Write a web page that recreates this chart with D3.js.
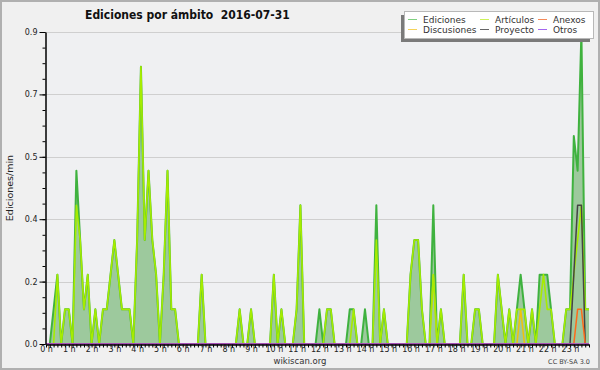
<!DOCTYPE html>
<meta charset="utf-8">
<style>
body { margin: 0; background: #f0f0f0; }
text { font-family: "DejaVu Sans", sans-serif; }
.axis path, .axis line { stroke: #000; }
.axis text { font-size: 8px; fill: #222; }
.grid { stroke: #cfcfcf; stroke-width: 1px; }
.legend text { font-size: 9px; fill: #333; }
</style>
<body>
<script src="https://d3js.org/d3.v7.min.js"></script>
<script>
// one value every 10 minutes, six per row (one row = one hour)
const ediciones = [
  0, 0, 0.1, 0.2, 0, 0.1,
  0.1, 0, 0.5, 0.3, 0.1, 0.2,
  0, 0.1, 0, 0.1, 0.1, 0.2,
  0.3, 0.2, 0.1, 0.1, 0.1, 0,
  0.3, 0.8, 0.3, 0.5, 0.3, 0.2,
  0, 0.2, 0.5, 0.1, 0.1, 0,
  0, 0, 0, 0, 0, 0.2,
  0, 0, 0, 0, 0, 0,
  0, 0, 0, 0.1, 0, 0,
  0.1, 0, 0, 0, 0, 0,
  0.2, 0, 0.1, 0, 0, 0,
  0.1, 0.4, 0, 0, 0, 0,
  0.1, 0, 0.1, 0.1, 0, 0,
  0, 0, 0.1, 0.1, 0, 0,
  0.1, 0, 0, 0.4, 0, 0.1,
  0, 0, 0, 0, 0, 0,
  0.2, 0.3, 0.3, 0.1, 0, 0,
  0.4, 0, 0.1, 0, 0, 0,
  0, 0, 0.2, 0, 0, 0.1,
  0.1, 0, 0, 0, 0, 0.2,
  0.1, 0, 0.1, 0, 0.1, 0.2,
  0.1, 0, 0.1, 0, 0.2, 0.2,
  0.2, 0.1, 0, 0, 0, 0.1,
  0.1, 0.6, 0.5, 0.9, 0.1, 0.1
];
const articulos = [
  0, 0, 0, 0.2, 0, 0.1,
  0.1, 0, 0.4, 0.3, 0.1, 0.2,
  0, 0.1, 0, 0.1, 0.1, 0.2,
  0.3, 0.2, 0.1, 0.1, 0.1, 0,
  0.3, 0.8, 0.3, 0.5, 0.3, 0.2,
  0, 0.2, 0.5, 0.1, 0.1, 0,
  0, 0, 0, 0, 0, 0.2,
  0, 0, 0, 0, 0, 0,
  0, 0, 0, 0.1, 0, 0,
  0.1, 0, 0, 0, 0, 0,
  0.2, 0, 0.1, 0, 0, 0,
  0.1, 0.4, 0, 0, 0, 0,
  0, 0, 0.1, 0.1, 0, 0,
  0, 0, 0, 0.1, 0, 0,
  0, 0, 0, 0.3, 0, 0.1,
  0, 0, 0, 0, 0, 0,
  0.2, 0.3, 0.3, 0.1, 0, 0,
  0.2, 0, 0.1, 0, 0, 0,
  0, 0, 0.2, 0, 0, 0.1,
  0.1, 0, 0, 0, 0, 0.2,
  0.1, 0, 0.1, 0, 0.1, 0.1,
  0.1, 0, 0.1, 0, 0.1, 0.2,
  0.1, 0.1, 0, 0, 0, 0.1,
  0.1, 0.2, 0.3, 0.4, 0.1, 0.1
];
const discusiones = [
  0, 0, 0, 0, 0, 0,  0, 0, 0, 0, 0, 0,  0, 0, 0, 0, 0, 0,  0, 0, 0, 0, 0, 0,
  0, 0, 0, 0, 0, 0,  0, 0, 0, 0, 0, 0,  0, 0, 0, 0, 0, 0,  0, 0, 0, 0, 0, 0,
  0, 0, 0, 0, 0, 0,  0, 0, 0, 0, 0, 0,  0, 0, 0, 0, 0, 0,  0, 0, 0, 0, 0, 0,
  0, 0, 0, 0, 0, 0,  0, 0, 0, 0, 0, 0,  0, 0, 0, 0, 0, 0,  0, 0, 0, 0, 0, 0,
  0, 0, 0, 0, 0, 0,  0.2, 0, 0, 0, 0, 0,  0, 0, 0, 0, 0, 0,  0, 0, 0, 0, 0, 0,
  0, 0, 0, 0, 0, 0.1,  0, 0, 0, 0, 0, 0,  0, 0, 0, 0, 0, 0,  0, 0, 0, 0, 0, 0
];
const proyecto = [
  0, 0, 0, 0, 0, 0,  0, 0, 0, 0, 0, 0,  0, 0, 0, 0, 0, 0,  0, 0, 0, 0, 0, 0,
  0, 0, 0, 0, 0, 0,  0, 0, 0, 0, 0, 0,  0, 0, 0, 0, 0, 0,  0, 0, 0, 0, 0, 0,
  0, 0, 0, 0, 0, 0,  0, 0, 0, 0, 0, 0,  0, 0, 0, 0, 0, 0,  0, 0, 0, 0, 0, 0,
  0, 0, 0, 0, 0, 0,  0, 0, 0, 0, 0, 0,  0, 0, 0, 0, 0, 0,  0, 0, 0, 0, 0, 0,
  0, 0, 0, 0, 0, 0,  0, 0, 0, 0, 0, 0,  0, 0, 0, 0, 0, 0,  0, 0, 0, 0, 0, 0,
  0, 0, 0, 0, 0, 0,  0, 0, 0, 0, 0, 0,  0, 0, 0, 0, 0, 0,  0, 0.2, 0.4, 0.4, 0, 0
];
const anexos = [
  0, 0, 0, 0, 0, 0,  0, 0, 0, 0, 0, 0,  0, 0, 0, 0, 0, 0,  0, 0, 0, 0, 0, 0,
  0, 0, 0, 0, 0, 0,  0, 0, 0, 0, 0, 0,  0, 0, 0, 0, 0, 0,  0, 0, 0, 0, 0, 0,
  0, 0, 0, 0, 0, 0,  0, 0, 0, 0, 0, 0,  0, 0, 0, 0, 0, 0,  0, 0, 0, 0, 0, 0,
  0, 0, 0, 0, 0, 0,  0, 0, 0, 0, 0, 0,  0, 0, 0, 0, 0, 0,  0, 0, 0, 0, 0, 0,
  0, 0, 0, 0, 0, 0,  0, 0, 0, 0, 0, 0,  0, 0, 0, 0, 0, 0,  0, 0, 0, 0, 0, 0,
  0, 0, 0, 0, 0, 0,  0, 0, 0, 0, 0, 0,  0, 0, 0, 0, 0, 0,  0, 0, 0.1, 0.1, 0, 0
];
const otros = [
  0, 0, 0, 0, 0, 0,  0, 0, 0, 0, 0, 0,  0, 0, 0, 0, 0, 0,  0, 0, 0, 0, 0, 0,
  0, 0, 0, 0, 0, 0,  0, 0, 0, 0, 0, 0,  0, 0, 0, 0, 0, 0,  0, 0, 0, 0, 0, 0,
  0, 0, 0, 0, 0, 0,  0, 0, 0, 0, 0, 0,  0, 0, 0, 0, 0, 0,  0, 0, 0, 0, 0, 0,
  0, 0, 0, 0, 0, 0,  0, 0, 0, 0, 0, 0,  0, 0, 0, 0, 0, 0,  0, 0, 0, 0, 0, 0,
  0, 0, 0, 0, 0, 0,  0, 0, 0, 0, 0, 0,  0, 0, 0, 0, 0, 0,  0, 0, 0, 0, 0, 0,
  0, 0, 0, 0, 0, 0,  0, 0, 0, 0, 0, 0,  0, 0, 0, 0, 0, 0,  0, 0, 0, 0, 0, 0
];
const horas = ["0 h","1 h","2 h","3 h","4 h","5 h","6 h","7 h","8 h","9 h","10 h","11 h",
  "12 h","13 h","14 h","15 h","16 h","17 h","18 h","19 h","20 h","21 h","22 h","23 h"];
const yTicks = [0, 0.18, 0.36, 0.54, 0.72, 0.9];

const series = [
  {name: "Ediciones", values: ediciones, color: "#3fb23f", key: "#80d080", w: 2},
  {name: "Discusiones", values: discusiones, color: "#f0c20a", key: "#f5d35a", w: 1.5},
  {name: "Artículos", values: articulos, color: "#a6ec00", key: "#cdf25a", w: 1.6},
  {name: "Proyecto", values: proyecto, color: "#444444", key: "#666666", w: 1.5},
  {name: "Anexos", values: anexos, color: "#ff6a1a", key: "#f58a5a", w: 1.5},
  {name: "Otros", values: otros, color: "#9448e6", key: "#a466ee", w: 1.5}
];

const W = 600, H = 370;
const svg = d3.select("body").append("svg").attr("width", W).attr("height", H);

svg.append("rect").attr("x", 1).attr("y", 1).attr("width", W - 2).attr("height", H - 2)
  .attr("fill", "#f0f0f0").attr("stroke", "#b0b0b0").attr("stroke-width", 2);

const x0 = 46, x1 = 589, yTop = 32, yBot = 344;
svg.append("rect").attr("x", x0).attr("y", yTop).attr("width", 590 - x0).attr("height", yBot - yTop)
  .attr("fill", "#eff0f2");

const x = d3.scaleLinear().domain([0, ediciones.length - 1]).range([x0, x1]);
const y = d3.scaleLinear().domain([0, 0.9]).range([yBot, yTop]);

// grid
svg.append("g").selectAll("line").data(yTicks.slice(1)).enter().append("line")
  .attr("class", "grid")
  .attr("x1", x0).attr("x2", 590)
  .attr("y1", d => Math.round(y(d)) + 0.5).attr("y2", d => Math.round(y(d)) + 0.5);

// area under total
const area = d3.area().x((d, i) => x(i)).y0(y(0)).y1(d => y(d));
svg.append("path").datum(ediciones).attr("d", area).attr("fill", "#9dc99d");

const line = d3.line().x((d, i) => x(i)).y(d => y(d));
series.forEach(s => {
  svg.append("path").datum(s.values).attr("d", line)
    .attr("fill", "none").attr("stroke", s.color).attr("stroke-width", s.w)
    .attr("stroke-linejoin", "round");
});

// axes
const idx = d3.range(ediciones.length);
svg.append("g").attr("class", "axis").attr("transform", "translate(0," + (yBot + 0.5) + ")")
  .call(d3.axisBottom(x).tickValues(idx).tickSize(3).tickSizeOuter(0)
    .tickFormat(i => i % 6 === 0 ? horas[i / 6] : ""))
  .call(g => g.select(".domain").attr("stroke-width", 1.5))
  .call(g => g.selectAll("text").attr("dy", "0.55em").attr("y", 3));

const minor = d3.range(0, 21).map(i => i * 0.045);
svg.append("g").attr("class", "axis").attr("transform", "translate(" + (x0 - 0.5) + ",0)")
  .call(d3.axisLeft(y).tickValues(minor).tickSize(3).tickFormat(""))
  .call(g => g.select(".domain").remove());
svg.append("g").attr("class", "axis").attr("transform", "translate(" + (x0 - 0.5) + ",0)")
  .call(d3.axisLeft(y).tickValues(yTicks).tickSize(6).tickSizeOuter(0).tickPadding(2)
    .tickFormat(d => d.toFixed(1)))
  .call(g => g.select(".domain").attr("stroke-width", 1.5));

// texts
svg.append("text").attr("x", 85).attr("y", 19).style("white-space", "pre")
  .style("font-family", "'DejaVu Sans Condensed', 'DejaVu Sans', sans-serif")
  .style("font-weight", "bold").style("font-size", "12px").attr("fill", "#111")
  .text("Ediciones por ámbito  2016-07-31");
svg.append("text").attr("transform", "translate(13,188) rotate(-90)")
  .attr("text-anchor", "middle").style("font-size", "9.5px").attr("fill", "#222")
  .text("Ediciones/min");
svg.append("text").attr("x", 300).attr("y", 364).attr("text-anchor", "middle")
  .style("font-size", "8.5px").attr("fill", "#333").text("wikiscan.org");
svg.append("text").attr("x", 590).attr("y", 364).attr("text-anchor", "end")
  .style("font-size", "6.5px").attr("fill", "#444").text("CC BY-SA 3.0");

// legend
const lg = svg.append("g").attr("class", "legend");
lg.append("rect").attr("x", 401).attr("y", 15).attr("width", 189).attr("height", 27).attr("fill", "#7a7a7a");
lg.append("rect").attr("x", 404.5).attr("y", 11.5).attr("width", 189).attr("height", 27)
  .attr("fill", "#fff").attr("stroke", "#b8b8b8");
const legendOrder = ["Ediciones", "Artículos", "Anexos", "Discusiones", "Proyecto", "Otros"];
const colX = [408, 480, 538];
legendOrder.forEach((n, i) => {
  const s = series.find(d => d.name === n);
  const cx = colX[i % 3], cy = i < 3 ? 19 : 29;
  lg.append("rect").attr("x", cx).attr("y", cy).attr("width", 9).attr("height", 1)
    .attr("fill", s.key);
  lg.append("text").attr("x", cx + 15).attr("y", cy + 3.5).text(n);
});
</script>
</body>
